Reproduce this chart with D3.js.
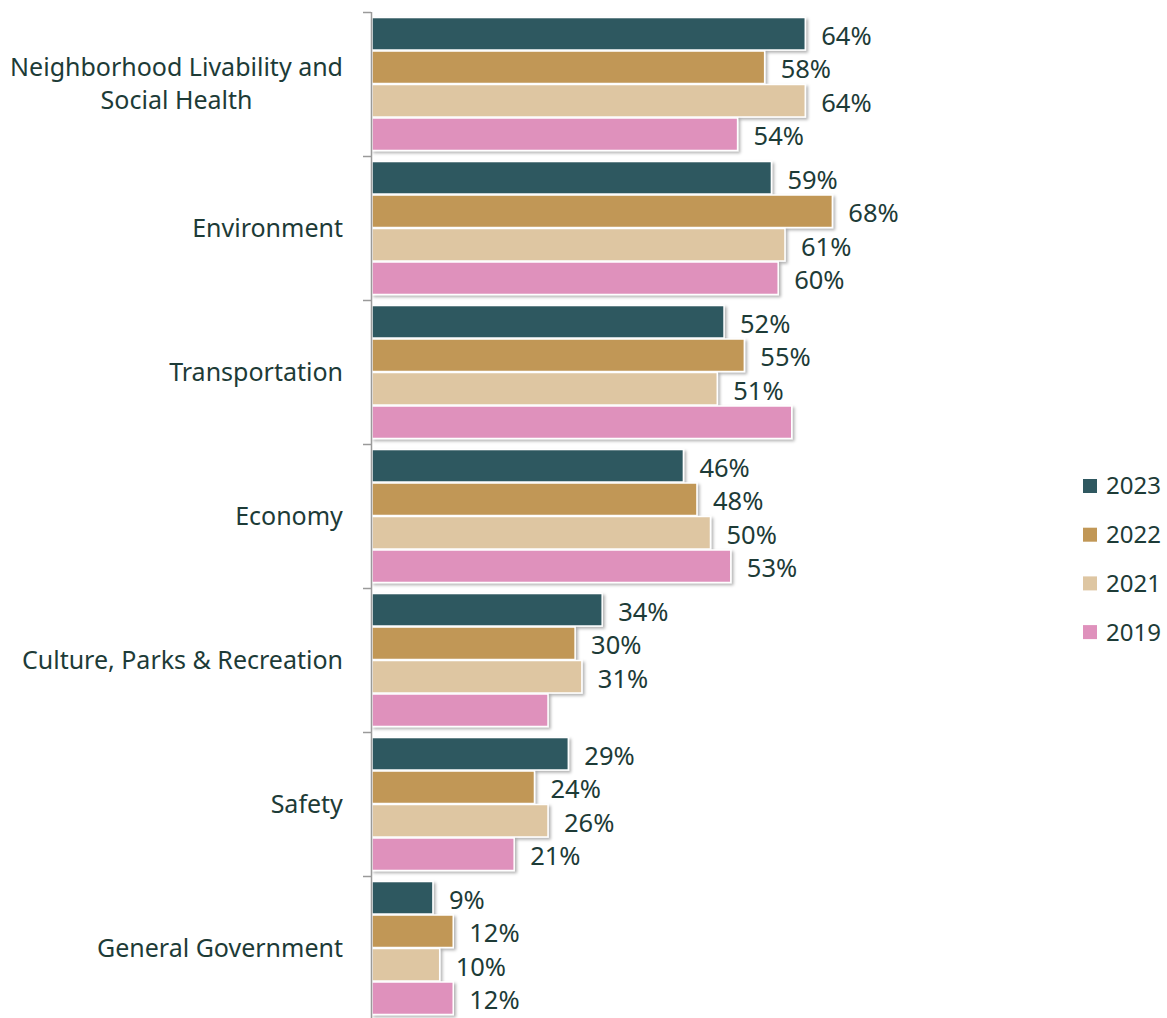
<!DOCTYPE html>
<html>
  <head>
    <meta charset="utf-8"/>
    <title>Priority areas by year</title>
    <style type="text/css">
body {
  margin: 0;
  background: #fff;
}
text {
  font-family: "Segoe UI", "Noto Sans", sans-serif;
  fill: #1d3b37;
}
    </style>
  </head>
  <body>
    <div id="chart"></div>
    <script src="https://cdn.jsdelivr.net/npm/d3@7"></script>
    <script>
    const categories = [
      ["Neighborhood Livability and", "Social Health"],
      ["Environment"],
      ["Transportation"],
      ["Economy"],
      ["Culture, Parks & Recreation"],
      ["Safety"],
      ["General Government"]
    ];
    const years = ["2023", "2022", "2021", "2019"];
    const colors = ["#2f5860", "#c19756", "#dec6a2", "#df91bc"];

    // values per year, in category order (percent)
    const v2023 = [64, 59, 52, 46, 34, 29, 9];
    const v2022 = [58, 68, 55, 48, 30, 24, 12];
    const v2021 = [64, 61, 51, 50, 31, 26, 10];
    const v2019 = [54, 60, 62, 53, 26, 21, 12];
    // some bars in the source have no label
    const hideLabel = [[], [], [], [], [], [], []];
    hideLabel[2][3] = true;
    hideLabel[4][3] = true;

    const series = [v2023, v2022, v2021, v2019];

    const width = 1167, height = 1018;
    const svg = d3.select("#chart").append("svg")
        .attr("width", width)
        .attr("height", height);

    const defs = svg.append("defs");
    const f = defs.append("filter").attr("id", "shadow")
        .attr("x", "-5%").attr("y", "-30%").attr("width", "115%").attr("height", "180%");
    f.append("feDropShadow")
        .attr("dx", 2).attr("dy", 2)
        .attr("stdDeviation", 1.8)
        .attr("flood-color", "#000")
        .attr("flood-opacity", 0.3);

    const x = d3.scaleLinear().domain([0, 100]).range([372, 1049]);
    const y0 = d3.scaleBand()
        .domain(d3.range(categories.length))
        .range([12, 1020])
        .paddingInner(0).paddingOuter(0);
    const y1 = d3.scaleBand()
        .domain(d3.range(years.length))
        .range([0, y0.bandwidth()])
        .paddingOuter(0.15).paddingInner(0);

    const groups = svg.selectAll(".group")
        .data(categories)
        .enter()
        .append("g")
        .attr("class", "group")
        .attr("transform", (d, i) => "translate(0," + y0(i) + ")");

    groups.each(function (cat, ci) {
      const g = d3.select(this);
      const rows = years.map((yr, si) => ({si: si, value: series[si][ci]}));
      g.selectAll("rect")
          .data(rows)
          .enter()
          .append("rect")
          .attr("x", x(0))
          .attr("y", d => y1(d.si) + 0.5)
          .attr("width", d => x(d.value) - x(0))
          .attr("height", y1.bandwidth() - 1)
          .attr("fill", d => colors[d.si])
          .attr("stroke", "#fff")
          .attr("stroke-width", 1.5)
          .attr("filter", "url(#shadow)");

      g.selectAll(".lbl")
          .data(rows.filter(d => !hideLabel[ci][d.si]))
          .enter()
          .append("text")
          .attr("class", "lbl")
          .attr("x", d => x(d.value) + 16)
          .attr("y", d => y1(d.si) + y1.bandwidth() / 2 + 4)
          .attr("dominant-baseline", "middle")
          .style("font-size", "25.5px")
          .text(d => d.value + "%");

      // category label
      const lh = 33;
      const t = g.append("text")
          .attr("text-anchor", "middle")
          .style("font-size", "25px");
      const lines = t.selectAll("tspan")
          .data(cat)
          .enter()
          .append("tspan")
          .attr("x", 0)
          .attr("y", (d, i) => y0.bandwidth() / 2 + 2 + (i - (cat.length - 1) / 2) * lh)
          .attr("dominant-baseline", "middle")
          .text(d => d);
      // right-align the block at x=343 while centring lines within it
      const w = t.node().getBBox().width;
      lines.attr("x", 343 - w / 2);
    });

    // axis line with category separators
    svg.append("line")
        .attr("x1", 371.5).attr("x2", 371.5)
        .attr("y1", 12).attr("y2", 1020)
        .attr("stroke", "#9a9a9a")
        .attr("stroke-width", 1.5);
    svg.append("g")
        .selectAll("line")
        .data(d3.range(categories.length + 1))
        .enter()
        .append("line")
        .attr("x1", 363).attr("x2", 371)
        .attr("y1", i => Math.round(12 + i * y0.step()) + 0.5)
        .attr("y2", i => Math.round(12 + i * y0.step()) + 0.5)
        .attr("stroke", "#9a9a9a")
        .attr("stroke-width", 1.5);

    // legend
    const legend = svg.append("g")
        .selectAll("g")
        .data(years)
        .enter()
        .append("g")
        .attr("transform", (d, i) => "translate(1083," + (486 + i * 48.7) + ")");
    legend.append("rect")
        .attr("x", 0).attr("y", -7)
        .attr("width", 14).attr("height", 14)
        .attr("fill", (d, i) => colors[i]);
    legend.append("text")
        .attr("x", 23)
        .attr("y", 2)
        .attr("dominant-baseline", "middle")
        .style("font-size", "24px")
        .text(d => d);
    </script>
  </body>
</html>
